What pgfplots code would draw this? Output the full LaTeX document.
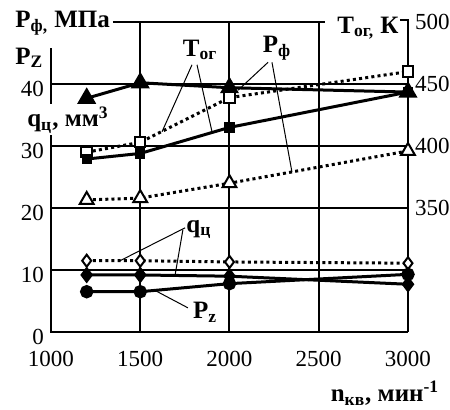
\documentclass[border=0pt]{standalone}
\usepackage{fontspec}
\setmainfont{Liberation Serif}
\usepackage{pgfplots}
\usepackage{pgfplotstable}
\pgfplotsset{compat=1.18}

% left axis: P_phi, q_c, P_z
\pgfplotstableread{
n    PfA   PfB   qE    qF    Pz
1200 37.7  21.3  11.5  9.2   6.5
1500 40.2  21.6  11.5  9.2   6.5
2000 39.4  24.0  11.3  9.0   7.8
3000 38.7  29.2  11.1  7.7   9.3
}\leftdata
% right axis: T_og
\pgfplotstableread{
n    TC    TD
1200 395   389.5
1500 403   394
2000 439   415
3000 460   443.5
}\rightdata

\tikzset{
  dotln/.style={line width=1.5pt, dash pattern=on 1.5pt off 1.6pt},
  thin ptr/.style={line width=0.5pt},
  frame/.style={line width=1pt},
  lbl/.style={font=\fontsize{12.5}{14}\selectfont\bfseries, inner sep=1pt},
}

\begin{document}
\begin{tikzpicture}
\pgfplotsset{
  common/.style={
    scale only axis, width=178.5pt, height=155pt,
    xmin=1000, xmax=3000, clip=false,
    axis line style={draw=none},
    major tick length=0pt,
    tick label style={font=\fontsize{11.5}{13}\selectfont},
    /pgf/number format/assume math mode=true,
    /pgf/number format/1000 sep={},
  }
}
\begin{axis}[common,
    ymin=0, ymax=50,
    xtick={1000,1500,2000,2500,3000},
    ytick={0,10,20,30,40},
    xticklabel style={yshift=-6pt},
    yticklabel style={yshift=-2.5pt},
]
% frame and grid
\draw[frame] (axis cs:1000,10) -- (axis cs:3000,10);
\draw[frame] (axis cs:1000,20) -- (axis cs:3000,20);
\draw[frame] (axis cs:1000,30) -- (axis cs:3000,30);
\draw[frame] (axis cs:1000,40) -- (axis cs:3000,40);
\draw[frame] (axis cs:1500,0) -- (axis cs:1500,50);
\draw[frame] (axis cs:2000,0) -- (axis cs:2000,50);
\draw[frame] (axis cs:2500,0) -- (axis cs:2500,50);
\draw[frame] (axis cs:1000,45.8) -- (axis cs:1000,0) -- (axis cs:3000,0);
\draw[frame] (axis cs:2955,50.3) -- (axis cs:3000,50.3) -- (axis cs:3000,0);
\draw[frame] (axis cs:1347,50) -- (axis cs:2535,50);

\addplot[black, line width=1.5pt, mark=triangle*, mark size=4pt] table[x=n, y=PfA]{\leftdata};
\addplot[black, dotln, mark=triangle*, mark size=4pt, mark options={solid, fill=white, line width=1pt}] table[x=n, y=PfB]{\leftdata};
\addplot[black, dotln, mark=diamond*, mark size=3pt, mark options={solid, fill=white, line width=1pt}] table[x=n, y=qE]{\leftdata};
\addplot[black, line width=1.5pt, mark=diamond*, mark size=3pt] table[x=n, y=qF]{\leftdata};
\addplot[black, line width=1.5pt, mark=*, mark size=2.6pt] table[x=n, y=Pz]{\leftdata};

% pointer lines
\draw[thin ptr] (axis cs:1790,43.1) -- (axis cs:1622,32.3);
\draw[thin ptr] (axis cs:1818,43.1) -- (axis cs:1902,32.3);
\draw[thin ptr] (axis cs:2216,43.5) -- (axis cs:2048,39.0);
\draw[thin ptr] (axis cs:2238,43.5) -- (axis cs:2350,25.8);
\draw[thin ptr] (axis cs:1751,16.8) -- (axis cs:1387,11.5);
\draw[thin ptr] (axis cs:1739,16.5) -- (axis cs:1695,9.15);
\draw[thin ptr] (axis cs:1767,3.9) -- (axis cs:1583,6.7);

% labels
\node[lbl, anchor=west] at (axis cs:787,49.8) {P\textsubscript{ф,} МПа};
\node[lbl, anchor=west] at (axis cs:787,44.2) {P\textsubscript{Z}};
\node[lbl, anchor=west, fill=white] at (axis cs:854,34.2) {q\textsubscript{ц}, мм\textsuperscript{3}};
\node[lbl, anchor=west] at (axis cs:2591,49.0) {T\textsubscript{ог,} К};
\node[lbl] at (axis cs:1835,45.5) {T\textsubscript{ог}};
\node[lbl] at (axis cs:2266,45.8) {P\textsubscript{ф}};
\node[lbl] at (axis cs:1829,16.5) {q\textsubscript{ц}};
\node[lbl] at (axis cs:1863,3.2) {P\textsubscript{z}};
\node[lbl] at (axis cs:2871,-9.9) {n\textsubscript{кв}, мин\textsuperscript{-1}};

\coordinate (bl) at (axis cs:714.3,-12.42);
\coordinate (tr) at (axis cs:3235.3,53.55);
\end{axis}

\begin{axis}[common,
    ymin=250, ymax=500,
    axis x line=none,
    axis y line*=right,
    ytick={350,400,450,500},
]
\addplot[black, dotln, mark=square*, mark size=2.6pt, mark options={solid, fill=white, line width=1pt}] table[x=n, y=TC]{\rightdata};
\addplot[black, line width=1.5pt, mark=square*, mark size=1.8pt] table[x=n, y=TD]{\rightdata};
\end{axis}
\pgfresetboundingbox
\path (bl) rectangle (tr);
\end{tikzpicture}
\end{document}
